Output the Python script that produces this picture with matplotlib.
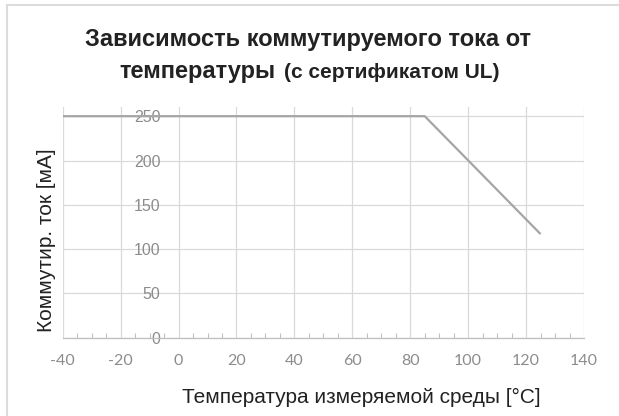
import matplotlib.pyplot as plt
from matplotlib.patches import Rectangle

# data
temp = [-40, 85, 125]
current = [250, 250, 117]

xticks = [-40, -20, 0, 20, 40, 60, 80, 100, 120, 140]
yticks = [0, 50, 100, 150, 200, 250]

plt.rcParams['font.family'] = ['Liberation Sans', 'DejaVu Sans']

fig = plt.figure(figsize=(6.19, 4.16), dpi=100)
ax = fig.add_axes([0.1013, 0.188, 0.8422, 0.554])

ax.plot(temp, current, color='#a5a5a5', linewidth=1.6, solid_capstyle='butt', zorder=3)

ax.set_xlim(-40, 140)
ax.set_ylim(0, 260)
ax.set_xticks(xticks)
ax.set_xticklabels([str(v) for v in xticks], family=['Lato', 'DejaVu Sans'])
ax.set_xticks(range(-40, 141, 5), minor=True)
ax.set_yticks(yticks)
ax.set_yticklabels([str(v) for v in yticks], family=['Lato', 'DejaVu Sans'])

ax.grid(True, color='#d9d9d9', linewidth=0.9)
ax.set_axisbelow(True)

for s in ['top', 'right']:
    ax.spines[s].set_visible(False)
ax.spines['left'].set_position(('data', 0))
ax.spines['left'].set_visible(False)
ax.spines['bottom'].set_color('#bfbfbf')
ax.spines['bottom'].set_linewidth(0.9)

ax.tick_params(axis='x', which='major', length=0, pad=12, labelsize=11.5, labelcolor='#8c8c8c')
ax.tick_params(axis='x', which='minor', direction='in', length=3.5, width=0.8, color='#bfbfbf')
ax.tick_params(axis='y', length=0, pad=13, labelsize=11.5, labelcolor='#8c8c8c')

ax.set_xlabel('Температура измеряемой среды [°C]', fontsize=15, color='#222222')
ax.xaxis.label.set_va('center')
ax.xaxis.set_label_coords(0.573, -0.257)
ax.set_ylabel('Коммутир. ток [мА]', fontsize=15, color='#222222')
ax.yaxis.label.set_va('center')
ax.yaxis.set_label_coords(-0.032, 0.424)

fig.text(0.4976, 1 - 46 / 416, 'Зависимость коммутируемого тока от', ha='center', va='baseline',
         fontsize=17, fontweight='bold', color='#222222')
fig.text(276 / 619, 1 - 78 / 416, 'температуры', ha='right', va='baseline',
         fontsize=17, fontweight='bold', color='#222222')
fig.text(284 / 619, 1 - 78 / 416, '(с сертификатом UL)', ha='left', va='baseline',
         fontsize=15, fontweight='bold', color='#222222')

# chart border (only top and left edges visible in the crop)
fig.patches.append(Rectangle((7 / 619, -0.1), 1.2, 1.1 - 5 / 416, transform=fig.transFigure,
                             fill=False, edgecolor='#dcdcdc', linewidth=1.5))

fig.savefig('out.png', dpi=100)
